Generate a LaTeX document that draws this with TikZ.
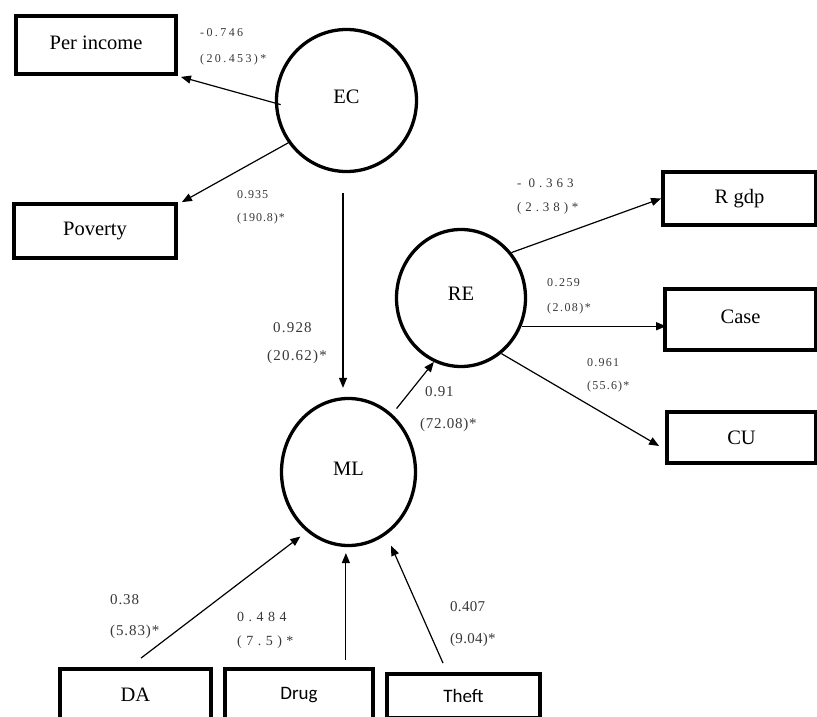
\documentclass[tikz,border=0pt]{standalone}
\usepackage{fontspec}
\setmainfont{Liberation Serif}
\newfontfamily\cf{Liberation Serif}
\newfontfamily\calfont{Carlito}
\usetikzlibrary{arrows.meta,shapes.geometric}
\begin{document}
\begin{tikzpicture}[x=1pt,y=-1pt,
  box/.style={draw,line width=3.8pt,rectangle,inner sep=0pt,font=\fontsize{20.5}{24}\selectfont},
  lat/.style={draw,line width=3.3pt,ellipse,inner sep=0pt,font=\fontsize{20.5}{24}\selectfont},
  arr/.style={line width=1.2pt,-{Triangle[length=10pt,width=8pt]}},
  coef/.style 2 args={anchor=west,inner sep=0pt,text=black!78,font={\cf\addfontfeatures{LetterSpace=#2}\fontsize{#1}{#1}\selectfont}}]
\fill[white] (0,0) rectangle (817,717);
\clip (0,0) rectangle (817,717);
% indicator boxes
\node[box,minimum width=160pt,minimum height=58pt] (pi) at (96,45) {\raisebox{5pt}{Per income}};
\node[box,minimum width=162pt,minimum height=54pt] (pov) at (95,231) {\raisebox{3pt}{Poverty}};
\node[box,minimum width=153pt,minimum height=53pt] (rg) at (739.5,198.5) {R gdp};
\node[box,minimum width=151pt,minimum height=61pt] (case) at (740.5,319.5) {\raisebox{6pt}{Case}};
\node[box,minimum width=149pt,minimum height=51pt] (cu) at (741.5,437.5) {CU};
\node[box,minimum width=151pt,minimum height=52pt] (da) at (135.5,695) {DA};
\node[box,minimum width=148pt,minimum height=52pt] (dr) at (299,695) {\calfont\fontsize{19}{22}\selectfont Drug};
\node[box,minimum width=153pt,minimum height=44pt] (th) at (463.5,696) {\calfont\fontsize{19}{22}\selectfont Theft};
% latent variables
\node[lat,minimum width=140pt,minimum height=142pt] (EC) at (346.5,100.5) {\raisebox{7pt}{EC}};
\node[lat,minimum width=129pt,minimum height=137pt] (RE) at (461,298) {\raisebox{8pt}{RE}};
\node[lat,minimum width=134pt,minimum height=147pt] (ML) at (348.5,472) {\raisebox{7pt}{ML}};
% connectors
\draw[arr,shorten <=-6pt] (EC.182) -- ([xshift=3pt,yshift=-1pt]pi.south east);
\draw[arr] (EC.216) -- ([xshift=4pt]pov.north east);
\draw[arr,shorten <=20pt,shorten >=9pt] ([xshift=-3.5pt]EC.south) -- ([xshift=-3.5pt]EC.south |- ML.north);
\draw[arr,shorten <=7pt] (ML.53) -- (RE.247);
\draw[arr] (RE.42) -- (rg.west);
\draw[arr] (RE.-25) -- ([xshift=3pt]RE.-25 -| case.west);
\draw[arr] (RE.-54) -- ([xshift=-6pt,yshift=-8.5pt]cu.west);
\draw[arr,shorten >=8pt] ([xshift=5.5pt,yshift=9pt]da.north) -- (ML.235);
\draw[arr,shorten >=6pt] ([yshift=7pt]dr.north -| ML.268) -- (ML.268);
\draw[arr,shorten >=12pt] ([xshift=-20.5pt,yshift=9pt]th.north) -- (ML.301);
% coefficients
\node[coef={12}{20}] (c1a) at (200,33) {-0.746};
\node[coef={12}{20}] (c1b) at (200,60) {(20.453)*};
\node[coef={12}{8}] (c2a) at (237,195) {0.935};
\node[coef={12}{8}] (c2b) at (237,219) {(190.8)*};
\node[coef={13}{30}] (c3a) at (517,183) {- 0.363};
\node[coef={13}{30}] (c3b) at (517,208) {(2.38)*};
\node[coef={12}{12}] (c4a) at (547,283) {0.259};
\node[coef={12}{12}] (c4b) at (547,309) {(2.08)*};
\node[coef={12}{10}] (c5a) at (587,363) {0.961};
\node[coef={12}{10}] (c5b) at (587,387) {(55.6)*};
\node[coef={15}{5}] (c6a) at (425,392) {0.91};
\node[coef={15}{5}] (c6b) at (420,425) {(72.08)*};
\node[coef={15}{8}] (c7a) at (273,328) {0.928};
\node[coef={15}{8}] (c7b) at (267,357) {(20.62)*};
\node[coef={15}{6}] (c8a) at (110,600) {0.38};
\node[coef={15}{6}] (c8b) at (110,632) {(5.83)*};
\node[coef={14}{32}] (c9a) at (237,617) {0.484};
\node[coef={14}{32}] (c9b) at (237,642) {(7.5)*};
\node[coef={15}{2}] (c10a) at (450,607) {0.407};
\node[coef={15}{2}] (c10b) at (450,640) {(9.04)*};
\end{tikzpicture}
\end{document}
